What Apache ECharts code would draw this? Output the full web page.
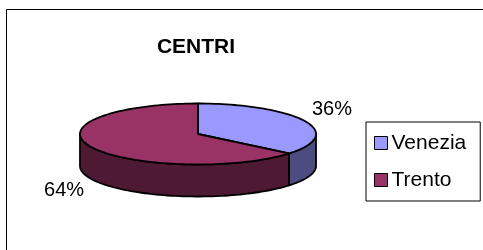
<!DOCTYPE html>
<html>
<head>
<meta charset="utf-8">
<script src="https://cdn.jsdelivr.net/npm/echarts@6/dist/echarts.min.js"></script>
<style>
  html, body { margin: 0; padding: 0; background: #fff; }
  #chart { width: 483px; height: 250px; }
</style>
</head>
<body>
<div id="chart"></div>
<script>
  // dati del grafico
  var cities = ['Venezia', 'Trento'];
  var values = [36, 64];
  var topColors = ['#9999FF', '#993366'];
  var sideColors = ['#4C4C80', '#4D1933'];
  var chartTitle = 'CENTRI';

  var FONT = '"Liberation Sans", Arial, sans-serif';
  // torta 3D: centro, raggi dell'ellisse e spessore
  var cx = 198, cy = 134, rx = 118, ry = 30.5, depth = 32;
  var total = values.reduce(function (a, b) { return a + b; }, 0);

  function rimPoint(deg, dy) {
    var t = deg * Math.PI / 180;
    return [cx + rx * Math.sin(t), cy - ry * Math.cos(t) + (dy || 0)];
  }
  function arc(a0, a1, dy) {
    var pts = [];
    var n = Math.max(2, Math.ceil(Math.abs(a1 - a0) / 2));
    for (var i = 0; i <= n; i++) {
      pts.push(rimPoint(a0 + (a1 - a0) * i / n, dy));
    }
    return pts;
  }

  function renderSlice(params, api) {
    var i = params.seriesIndex;
    var start = 0;
    for (var k = 0; k < i; k++) start += values[k];
    var val = api.value(0);
    var a0 = start / total * 360, a1 = (start + val) / total * 360;
    var children = [];
    // faccia superiore
    children.push({
      type: 'polygon', z2: 10,
      shape: { points: [[cx, cy]].concat(arc(a0, a1, 0)) },
      style: { fill: topColors[i], stroke: '#000', lineWidth: 1.8, lineJoin: 'round' }
    });
    // lato visibile (meta' davanti)
    var s0 = Math.max(a0, 90), s1 = Math.min(a1, 270);
    if (s1 > s0) {
      children.push({
        type: 'polygon', z2: 0,
        shape: { points: arc(s0, s1, 0).concat(arc(s1, s0, depth)) },
        style: { fill: sideColors[i], stroke: '#000', lineWidth: 1.8, lineJoin: 'round' }
      });
    }
    // etichetta percentuale
    var t = (a0 + a1) / 2 * Math.PI / 180;
    var lx = cx + (rx + 30) * Math.sin(t);
    var ly = cy - (ry + 26) * Math.cos(t) + (Math.cos(t) < 0 ? depth : 0);
    children.push({
      type: 'text', z2: 20,
      style: {
        x: lx, y: ly,
        text: Math.round(val / total * 100) + '%',
        align: 'center', verticalAlign: 'middle',
        font: '20px ' + FONT, fill: '#000'
      }
    });
    return { type: 'group', children: children };
  }

  var chart = echarts.init(document.getElementById('chart'));
  chart.setOption({
    backgroundColor: '#fff',
    animation: false,
    title: {
      text: chartTitle,
      left: 196,
      top: 37,
      padding: 0,
      textAlign: 'center',
      textStyle: { fontSize: 21, fontWeight: 'bold', fontFamily: FONT, color: '#000' }
    },
    legend: {
      orient: 'vertical',
      left: 366,
      top: 122,
      data: cities,
      selectedMode: false,
      backgroundColor: '#fff',
      borderColor: '#000',
      borderWidth: 1,
      borderRadius: 0,
      padding: [10, 14, 10, 8],
      itemWidth: 13,
      itemHeight: 13,
      itemGap: 15,
      icon: 'rect',
      itemStyle: { borderColor: '#000', borderWidth: 1 },
      textStyle: { fontSize: 21, lineHeight: 22, fontFamily: FONT, color: '#000', padding: [0, 0, 0, -1] }
    },
    graphic: [{
      type: 'rect',
      silent: true,
      shape: { x: 6.5, y: 9.5, width: 520, height: 300 },
      style: { fill: 'none', stroke: '#000', lineWidth: 1 }
    }],
    series: cities.map(function (name, i) {
      return {
        type: 'custom',
        name: name,
        coordinateSystem: 'none',
        itemStyle: { color: topColors[i] },
        renderItem: renderSlice,
        data: [[values[i]]]
      };
    })
  });
</script>
</body>
</html>
